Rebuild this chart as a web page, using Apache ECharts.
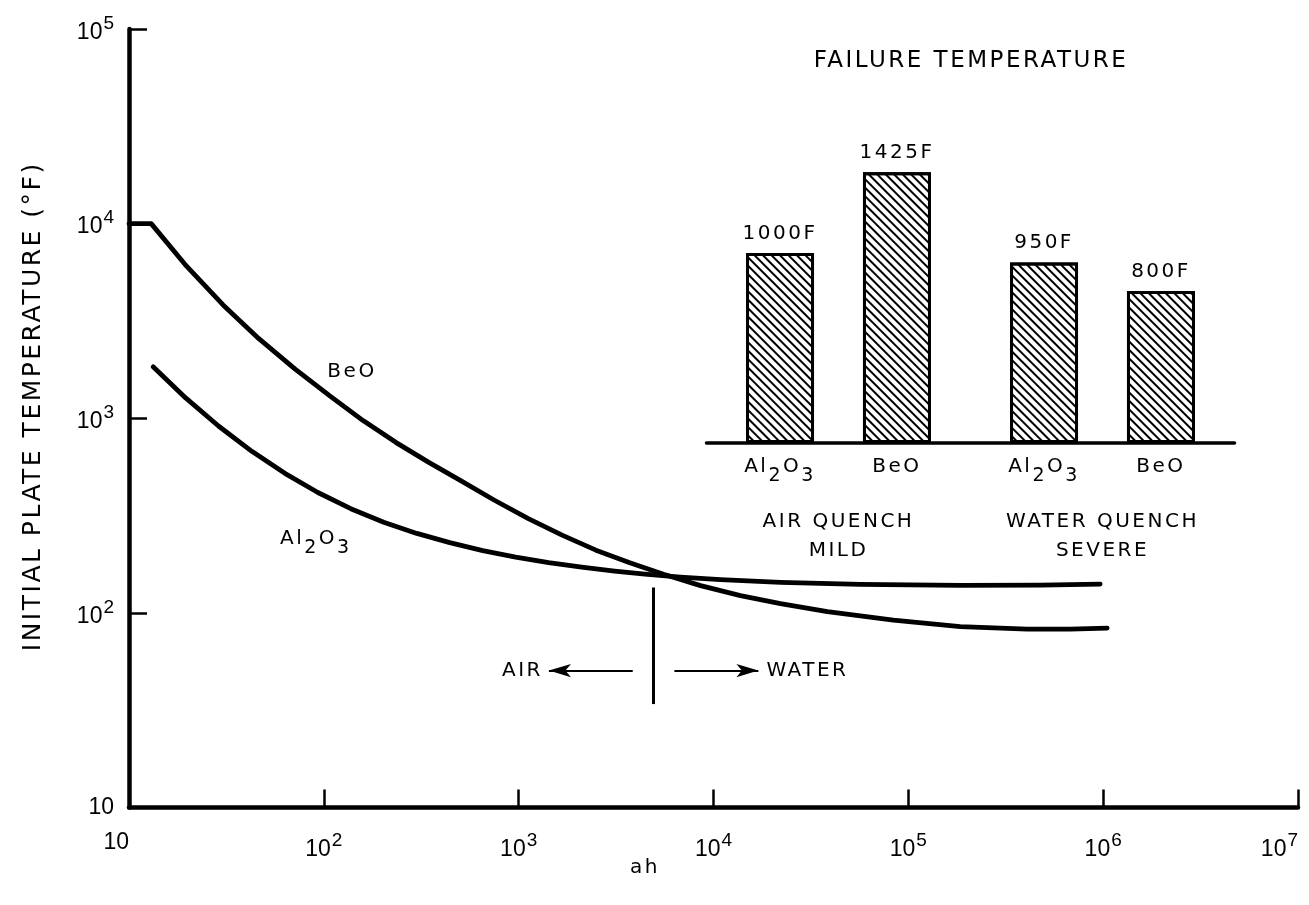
<!DOCTYPE html>
<html>
<head>
<meta charset="utf-8">
<script src="https://cdn.jsdelivr.net/npm/echarts@6/dist/echarts.min.js"></script>
<style>
html,body{margin:0;padding:0;background:#fff;}
#chart{width:1309px;height:905px;}
</style>
</head>
<body>
<div id="chart"></div>
<script>
// ---- main curves (ah vs initial plate temperature, °F) ----
const beoX = [10, 13, 19.8, 30.4, 46.4, 71, 108.6, 159, 234, 344, 504, 751, 1121, 1671, 2491, 3718, 5540, 8580, 13750, 22060, 38420, 83770, 184800, 407700, 677000, 1048000];
const beoY = [10000, 10000, 6026, 3822, 2563, 1793, 1293, 973, 752, 595, 478, 379, 305, 251, 210, 181, 158, 138, 122.6, 111.5, 101.5, 91.8, 85.0, 82.5, 82.5, 83.5];
const al2o3X = [13.3, 19.6, 28.9, 42.7, 63.1, 93.2, 137.5, 203, 300, 443, 654, 965, 1425, 2105, 3107, 4587, 6772, 10860, 22060, 56740, 184800, 475300, 965000];
const al2o3Y = [1838, 1268, 910, 676, 521, 415.5, 343, 292.4, 256, 229.5, 209, 193.3, 181.1, 171.6, 163.8, 157.6, 152.8, 148.2, 143.5, 140.0, 138.4, 138.9, 140.5];

// ---- air / water divider ----
const dividerAh = 4920;
const dividerTemps = [135, 34];
const arrowTemp = 50.5;
const airArrowAh = [3850, 1430];
const waterArrowAh = [6300, 17000];

// ---- axes (decade exponents) ----
const xExpRange = [1, 7];
const yExpRange = [1, 5];

// ---- inset: failure temperature ----
const quenchGroups = ['AIR QUENCH\nMILD', 'WATER QUENCH\nSEVERE'];
const materials = ['Al2O3', 'BeO'];
const failAl2O3 = [1000, 950];
const failBeO = [1425, 800];
const insetMax = 1500;

// lettering of the original drawing is widely spaced (applied to the DejaVu text only)
const LETTER_SPACING = '2.5px';
(function () {
  const P = CanvasRenderingContext2D.prototype;
  const f = P.fillText, m = P.measureText;
  function ls(ctx) { ctx.letterSpacing = (ctx.font || '').indexOf('DejaVu') >= 0 ? LETTER_SPACING : '0px'; }
  P.fillText = function () { ls(this); return f.apply(this, arguments); };
  P.measureText = function () { ls(this); return m.apply(this, arguments); };
})();

const FONT = 'DejaVu Sans';
const NUMFONT = 'Liberation Sans';
const materialRich = {
  a: {fontSize: 20, fontFamily: FONT, color: '#000', verticalAlign: 'top', lineHeight: 30},
  s: {fontSize: 19, fontFamily: FONT, color: '#000', verticalAlign: 'top', padding: [9, 0, 0, 0], lineHeight: 30}
};
function materialText(m) {
  return m === 'Al2O3' ? '{a|Al}{s|2}{a|O}{s|3}' : '{a|' + m + '}';
}
const powRich = {
  b: {fontSize: 23, fontFamily: NUMFONT, color: '#000', verticalAlign: 'bottom'},
  s: {fontSize: 19, fontFamily: NUMFONT, color: '#000', verticalAlign: 'bottom', padding: [0, 0, 11, 1]}
};
function powLabel(v) {
  const e = Math.round(Math.log10(v));
  return e === 1 ? '{b|10}' : '{b|10}{s|' + e + '}';
}

const hatch = {
  symbol: 'rect', symbolSize: 1, color: '#000',
  dashArrayX: [1, 0], dashArrayY: [1.5, 3.8], rotation: Math.PI / 4
};

const chart = echarts.init(document.getElementById('chart'), null, {renderer: 'canvas'});
const lineStyleMain = {color: '#000', width: 4.8, join: 'round', cap: 'round'};
const labelFont = {color: '#000', fontSize: 20, fontFamily: FONT};

const option = {
  backgroundColor: '#fff',
  animation: false,
  textStyle: {fontFamily: FONT, color: '#000'},
  grid: [
    {left: 129, right: 11, top: 29, bottom: 97.5, outerBoundsMode: 'none', containLabel: false},
    {left: 706.5, width: 528, top: 158, height: 285, outerBoundsMode: 'none', containLabel: false}
  ],
  xAxis: [
    {
      type: 'log', logBase: 10, gridIndex: 0,
      min: Math.pow(10, xExpRange[0]), max: Math.pow(10, xExpRange[1]),
      axisLine: {lineStyle: {color: '#000', width: 4.5}},
      axisTick: {inside: true, length: 18, lineStyle: {color: '#000', width: 2.5}},
      minorTick: {show: false},
      splitLine: {show: false},
      axisLabel: {margin: 24, formatter: powLabel, rich: powRich, hideOverlap: false,
                  alignMinLabel: 'right', alignMaxLabel: 'right'}
    },
    {
      type: 'category', gridIndex: 1, data: quenchGroups,
      axisLine: {lineStyle: {color: '#000', width: 3.5}},
      axisTick: {show: false},
      axisLabel: Object.assign({margin: 64, lineHeight: 29}, labelFont)
    },
    {
      type: 'category', gridIndex: 1, data: quenchGroups, show: false
    }
  ],
  yAxis: [
    {
      type: 'log', logBase: 10, gridIndex: 0,
      min: Math.pow(10, yExpRange[0]), max: Math.pow(10, yExpRange[1]),
      name: 'INITIAL PLATE TEMPERATURE (°F)',
      nameLocation: 'middle', nameGap: 82,
      nameTextStyle: {fontSize: 25, color: '#000', fontFamily: FONT, padding: [0, 0, 0, 24]},
      axisLine: {lineStyle: {color: '#000', width: 4.5}},
      axisTick: {inside: true, length: 18, lineStyle: {color: '#000', width: 2.5}},
      minorTick: {show: false},
      splitLine: {show: false},
      axisLabel: {margin: 15, formatter: powLabel, rich: powRich, hideOverlap: false}
    },
    {type: 'value', gridIndex: 1, min: 0, max: insetMax, show: false}
  ],
  series: [
    {
      name: 'BeO', type: 'line', xAxisIndex: 0, yAxisIndex: 0,
      data: beoX.map((x, i) => [x, beoY[i]]),
      showSymbol: false, symbol: 'none', smooth: false,
      lineStyle: lineStyleMain
    },
    {
      name: 'Al2O3', type: 'line', xAxisIndex: 0, yAxisIndex: 0,
      data: al2o3X.map((x, i) => [x, al2o3Y[i]]),
      showSymbol: false, symbol: 'none', smooth: false,
      lineStyle: lineStyleMain,
      markLine: {
        silent: true, animation: false,
        data: [
          [
            {coord: [dividerAh, dividerTemps[0]], symbol: 'none', lineStyle: {color: '#000', width: 3, type: 'solid'}, label: {show: false}},
            {coord: [dividerAh, dividerTemps[1]], symbol: 'none'}
          ],
          [
            {coord: [airArrowAh[0], arrowTemp], symbol: 'none', lineStyle: {color: '#000', width: 2, type: 'solid'},
             label: Object.assign({show: true, position: 'end', formatter: 'AIR', distance: 6}, labelFont)},
            {coord: [airArrowAh[1], arrowTemp], symbol: 'arrow', symbolSize: [10, 22]}
          ],
          [
            {coord: [waterArrowAh[0], arrowTemp], symbol: 'none', lineStyle: {color: '#000', width: 2, type: 'solid'},
             label: Object.assign({show: true, position: 'end', formatter: 'WATER', distance: 8}, labelFont)},
            {coord: [waterArrowAh[1], arrowTemp], symbol: 'arrow', symbolSize: [10, 22]}
          ]
        ]
      }
    },
    // inset bars (hatched) with value labels
    {
      name: materials[0], type: 'bar', xAxisIndex: 1, yAxisIndex: 1,
      data: failAl2O3, barWidth: 68, barGap: '72%',
      itemStyle: {color: '#fff', borderColor: '#000', borderWidth: 3, decal: hatch},
      label: Object.assign({show: true, position: 'top', distance: 8, formatter: p => p.value + 'F'}, labelFont)
    },
    {
      name: materials[1], type: 'bar', xAxisIndex: 1, yAxisIndex: 1,
      data: failBeO, barWidth: 68, barGap: '72%',
      itemStyle: {color: '#fff', borderColor: '#000', borderWidth: 3, decal: hatch},
      label: Object.assign({show: true, position: 'top', distance: 8, formatter: p => p.value + 'F'}, labelFont)
    },
    // same layout on a twin axis, used only for the material names under the bars
    {
      name: materials[0] + '-name', type: 'bar', xAxisIndex: 2, yAxisIndex: 1,
      data: failAl2O3, barWidth: 68, barGap: '72%', silent: true,
      itemStyle: {color: 'rgba(0,0,0,0)'},
      label: {show: true, position: 'bottom', distance: 13, formatter: () => materialText(materials[0]), rich: materialRich}
    },
    {
      name: materials[1] + '-name', type: 'bar', xAxisIndex: 2, yAxisIndex: 1,
      data: failBeO, barWidth: 68, barGap: '72%', silent: true,
      itemStyle: {color: 'rgba(0,0,0,0)'},
      label: {show: true, position: 'bottom', distance: 13, formatter: () => materialText(materials[1]), rich: materialRich}
    }
  ],
  graphic: [
    {type: 'text', x: 971, y: 61, style: {text: 'FAILURE TEMPERATURE', fontSize: 23, fontFamily: FONT, fill: '#000', align: 'center', verticalAlign: 'middle'}},
    {type: 'text', x: 352, y: 372, style: {text: 'BeO', fontSize: 20, fontFamily: FONT, fill: '#000', align: 'center', verticalAlign: 'middle'}},
    {type: 'text', x: 280, y: 528, style: {text: materialText('Al2O3'), rich: materialRich, align: 'left', verticalAlign: 'top'}},
    {type: 'text', x: 645, y: 868, style: {text: 'ah', fontSize: 20, fontFamily: FONT, fill: '#000', align: 'center', verticalAlign: 'middle'}}
  ]
};
chart.setOption(option);
</script>
</body>
</html>
